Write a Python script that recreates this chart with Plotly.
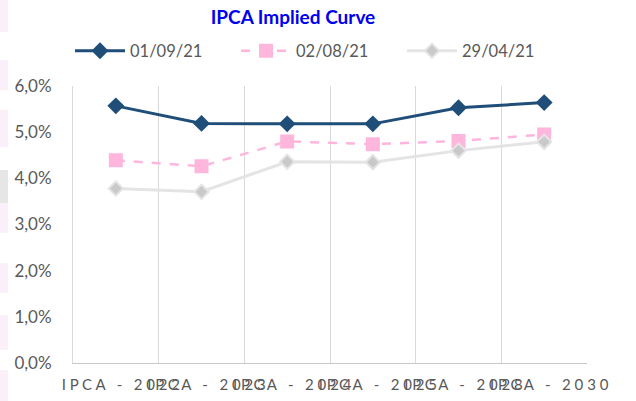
import plotly.graph_objects as go

categories = ["IPCA - 2022", "IPCA - 2023", "IPCA - 2024", "IPCA - 2025", "IPCA - 2028", "IPCA - 2030"]
s_010921 = [0.0557, 0.0519, 0.0518, 0.0518, 0.0553, 0.0564]
s_020821 = [0.0439, 0.0426, 0.0480, 0.0474, 0.0481, 0.0495]
s_290421 = [0.0378, 0.0371, 0.0436, 0.0435, 0.0460, 0.0479]
series_names = ["01/09/21", "02/08/21", "29/04/21"]
y_ticks = [0.0, 0.01, 0.02, 0.03, 0.04, 0.05, 0.06]

W, H = 636, 401
L, R, T, B = 73, 49, 86, 38
FONT = "Lato"
GRAY_TXT = "#595959"

spaced = [" ".join(list(c)) for c in categories]

fig = go.Figure()
fig.add_trace(go.Scatter(
    x=categories, y=s_010921, name=series_names[0], mode="lines+markers",
    line=dict(color="#1F4E79", width=3),
    marker=dict(symbol="diamond", size=13, color="#1F4E79"),
))
fig.add_trace(go.Scatter(
    x=categories, y=s_020821, name=series_names[1], mode="lines+markers",
    line=dict(color="#FFB6DD", width=2.5, dash="dash"),
    marker=dict(symbol="square", size=12, color="#FFB6DD", line=dict(color="#FFB6DD", width=2)),
))
fig.add_trace(go.Scatter(
    x=categories, y=s_290421, name=series_names[2], mode="lines+markers",
    line=dict(color="#E4E4E4", width=3),
    marker=dict(symbol="diamond", size=11, color="#C9C9C9", line=dict(color="#E4E4E4", width=2)),
))

pw, ph = W - L - R, H - T - B
def px_to_paper_x(px):
    return (px - L) / pw
def px_to_paper_y(py):
    return (H - B - py) / ph
strips = [(0, 32, "#FBEFFA"), (60, 90, "#FBEFFA"), (110, 147, "#FBEFFA"), (170, 203, "#E6E6E6"),
          (203, 233, "#FBEFFA"), (263, 293, "#FBEFFA"), (315, 350, "#FBEFFA"), (370, 401, "#FBEFFA")]
shapes = []
for y0, y1, col in strips:
    shapes.append(dict(type="rect", xref="paper", yref="paper",
                       x0=px_to_paper_x(0), x1=px_to_paper_x(8),
                       y0=px_to_paper_y(y1), y1=px_to_paper_y(y0),
                       fillcolor=col, line=dict(width=0), layer="below"))

fig.update_layout(
    width=W, height=H,
    margin=dict(l=L, r=R, t=T, b=B, pad=0, autoexpand=False),
    paper_bgcolor="white", plot_bgcolor="white",
    font=dict(family=FONT, color=GRAY_TXT),
    title=dict(text="<b>IPCA Implied Curve</b>", x=293 / W, xanchor="center",
               y=1 - 17 / H, yanchor="middle", xref="container", yref="container",
               font=dict(family=FONT, size=19, color="#0000F0")),
    legend=dict(orientation="h", x=px_to_paper_x(70), xanchor="left",
                y=px_to_paper_y(51), yanchor="middle",
                font=dict(family=FONT, size=16.5, color=GRAY_TXT),
                entrywidth=101, entrywidthmode="pixels", itemwidth=50,
                bgcolor="rgba(0,0,0,0)"),
    shapes=shapes,
    showlegend=True,
)
fig.update_xaxes(
    type="category", tickvals=categories, ticktext=spaced, tickangle=0, automargin=False,
    tickson="boundaries", showgrid=True, gridcolor="#D9D9D9", gridwidth=1,
    showline=True, linecolor="#C8C8C8", linewidth=1, ticks="",
    ticklabelstandoff=8, ticklabelshift=5,
    tickfont=dict(family=FONT, size=15, color=GRAY_TXT),
    range=[-0.5, len(categories) - 0.5], zeroline=False, mirror=False,
)
fig.update_yaxes(
    range=[0, 0.06], tickvals=y_ticks, automargin=False,
    ticktext=[("%.1f%%" % (v * 100)).replace(".", ",") for v in y_ticks],
    showgrid=False, showline=True, linecolor="#D9D9D9", linewidth=1, zeroline=False,
    ticks="", ticklabelstandoff=17,
    tickfont=dict(family=FONT, size=17, color=GRAY_TXT),
)

fig.write_html("out.html", config={"displayModeBar": False},
               post_script="document.body.style.margin='0px';")
